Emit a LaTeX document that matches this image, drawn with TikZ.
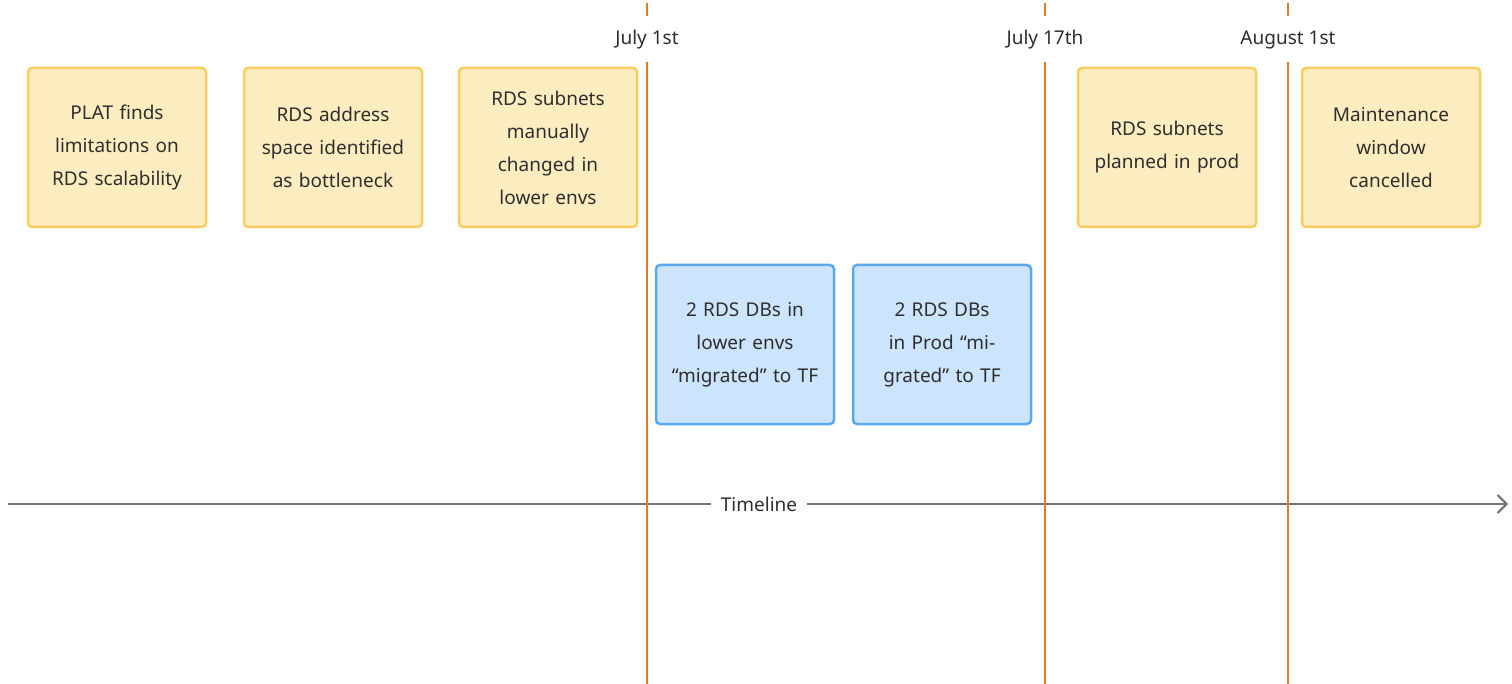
\documentclass[tikz,border=0pt]{standalone}
\usepackage{fontspec}
\setmainfont{Noto Sans}
\usetikzlibrary{arrows.meta}
\definecolor{ybg}{HTML}{FCEDC0}
\definecolor{ybd}{HTML}{F6CD5E}
\definecolor{bbg}{HTML}{CCE4FC}
\definecolor{bbd}{HTML}{5AA8F0}
\definecolor{org}{HTML}{E07B2C}
\definecolor{txt}{HTML}{2E2E2E}
\begin{document}
\begin{tikzpicture}[x=1pt,y=-1pt,
  box/.style={draw, line width=2.5pt, rounded corners=4pt, minimum width=178pt, minimum height=159pt, text width=150pt, align=center, font=\fontsize{19}{33}\selectfont, text=txt},
  yb/.style={box, fill=ybg, draw=ybd},
  bb/.style={box, fill=bbg, draw=bbd},
  ol/.style={draw=org, line width=2.5pt},
  lab/.style={font=\fontsize{19}{22}\selectfont, text=txt}]
\useasboundingbox (0,0) rectangle (1512,684);
% timeline
\coordinate (t0) at (8,504);
\coordinate (t1) at (1508,504);
\draw[draw=gray!90!black, line width=2pt, -{Straight Barb[length=9pt,width=18pt]}] (t0) -- (t1);
\node[lab, fill=white, inner xsep=10pt] (tl) at (759,504) {Timeline};
% orange lines
\foreach \x/\n/\t in {647/a/July 1st,1045/b/July 17th,1288/c/August 1st}{
  \draw[ol] (\x,3) -- (\x,16);
  \draw[ol] (\x,62) -- (\x,684);
  \node[lab] (\n) at (\x,40) {\t};
}
\node[lab, fill=white, inner xsep=10pt] at (759,504) {Timeline};
\node[yb] (y1) at (117,147.5) {PLAT finds limitations on RDS scalability};
\node[yb] (y2) at (333,147.5) {RDS address space identified as bottleneck};
\node[yb] (y3) at (548,147.5) {RDS subnets manually changed in lower envs};
\node[yb] (y4) at (1167,147.5) {RDS subnets planned in prod};
\node[yb] (y5) at (1391,147.5) {Maintenance window cancelled};
\node[bb] (b1) at (745,344.5) {2 RDS DBs in lower envs “migrated” to TF};
\node[bb] (b2) at (942,344.5) {2 RDS DBs in Prod “migrated” to TF};
\end{tikzpicture}
\end{document}
